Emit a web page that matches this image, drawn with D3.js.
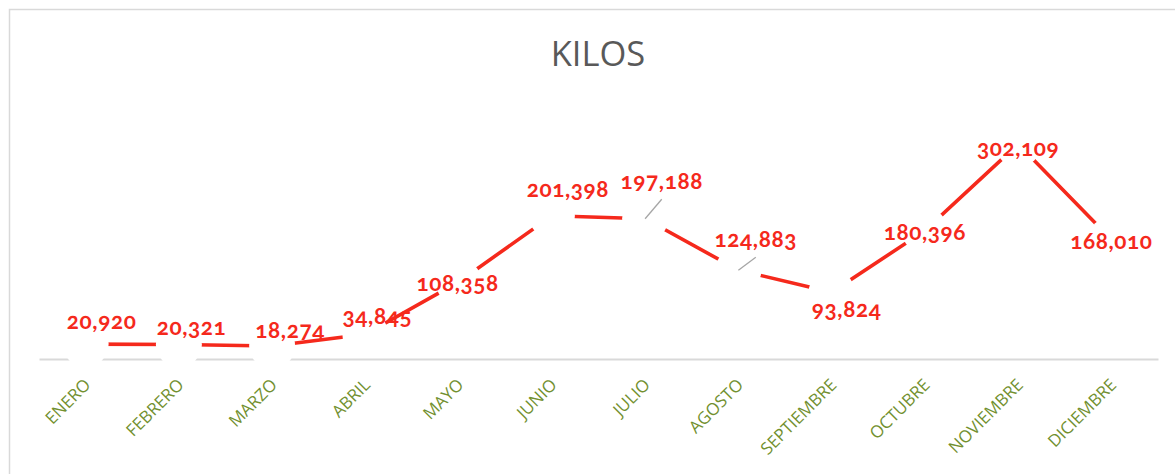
<!DOCTYPE html>
<html>
<head>
<meta charset="utf-8">
<script src="https://cdn.jsdelivr.net/npm/d3@7"></script>
<style>
  html, body { margin: 0; padding: 0; background: #fff; }
  svg { display: block; }
</style>
</head>
<body>
<div id="chart"></div>
<script>
// ---- data ----
const title = "KILOS";
const months = ["ENERO", "FEBRERO", "MARZO", "ABRIL", "MAYO", "JUNIO", "JULIO", "AGOSTO", "SEPTIEMBRE", "OCTUBRE", "NOVIEMBRE", "DICIEMBRE"];
const kilos = [20920, 20321, 18274, 34845, 108358, 201398, 197188, 124883, 93824, 180396, 302109, 168010];

// ---- layout (label nudges relative to each point, px: [dx, dy-to-baseline, leader]) ----
const labelNudge = [
  [16, -15, 0], [12.6, -9.6, 0], [18, -7.7, 0], [12, -10, 0],
  [-1, 8.7, 0], [16, -19, 0], [16.6, -29.5, 1], [17.4, -23, 1],
  [15, 24.4, 0], [0, 9.3, 0], [0, 11.5, 0], [0, 9.8, 0]
];

const W = 1175, H = 474;
const svg = d3.select("#chart").append("svg").attr("width", W).attr("height", H);

// chart border
svg.append("rect").attr("x", 9.5).attr("y", 9.5).attr("width", 1200).attr("height", 500)
  .attr("fill", "#fff").attr("stroke", "#d9d9d9").attr("stroke-width", 1.5);

// title
svg.append("text").attr("x", 598).attr("y", 66).attr("text-anchor", "middle")
  .attr("font-family", "'Open Sans', sans-serif").attr("font-size", 34.5)
  .attr("fill", "#595959").text(title);

const x = d3.scaleBand().domain(months).range([39, 1158]).paddingInner(0).paddingOuter(0);
const y = d3.scaleLinear().domain([0, 350000]).range([359, 110]);
const cx = m => x(m) + x.bandwidth() / 2;

// x axis
const xAxis = d3.axisBottom(x).tickSize(0).tickPadding(0);
const gx = svg.append("g").attr("transform", `translate(0,${y(0)})`).call(xAxis);
gx.select(".domain").attr("stroke", "#d9d9d9").attr("stroke-width", 2);
gx.selectAll(".tick text")
  .attr("font-family", "'Open Sans', sans-serif").attr("font-size", 17)
  .attr("fill", "#72902f")
  .attr("text-anchor", "end")
  .attr("dy", null)
  .attr("transform", "translate(6,27) rotate(-45)");

// line
const pts = months.map((m, i) => ({ m, v: kilos[i], i }));
svg.append("path").datum(pts)
  .attr("fill", "none").attr("stroke", "#f5291c").attr("stroke-width", 3.6)
  .attr("d", d3.line().x(d => cx(d.m)).y(d => y(d.v)));

// white markers masking the line around each point
svg.append("g").selectAll("circle").data(pts).join("circle")
  .attr("cx", d => cx(d.m)).attr("cy", d => y(d.v)).attr("r", 23).attr("fill", "#fff");

// leader lines
svg.append("g").selectAll("line").data(pts.filter(d => labelNudge[d.i][2])).join("line")
  .attr("x1", d => cx(d.m)).attr("y1", d => y(d.v))
  .attr("x2", d => cx(d.m) + labelNudge[d.i][0]).attr("y2", d => y(d.v) + labelNudge[d.i][1] + 10)
  .attr("stroke", "#a6a6a6").attr("stroke-width", 1.3);

// data labels
const fmt = d3.format(",");
svg.append("g").selectAll("text").data(pts).join("text")
  .attr("x", d => cx(d.m) + labelNudge[d.i][0])
  .attr("y", d => y(d.v) + labelNudge[d.i][1])
  .attr("text-anchor", "middle")
  .attr("font-family", "Lato, sans-serif").attr("font-weight", 700).attr("font-size", 22.5)
  .style("font-feature-settings", "'onum' 1")
  .attr("letter-spacing", 0.6)
  .attr("fill", "#f5291c")
  .text(d => fmt(d.v));
</script>
</body>
</html>
